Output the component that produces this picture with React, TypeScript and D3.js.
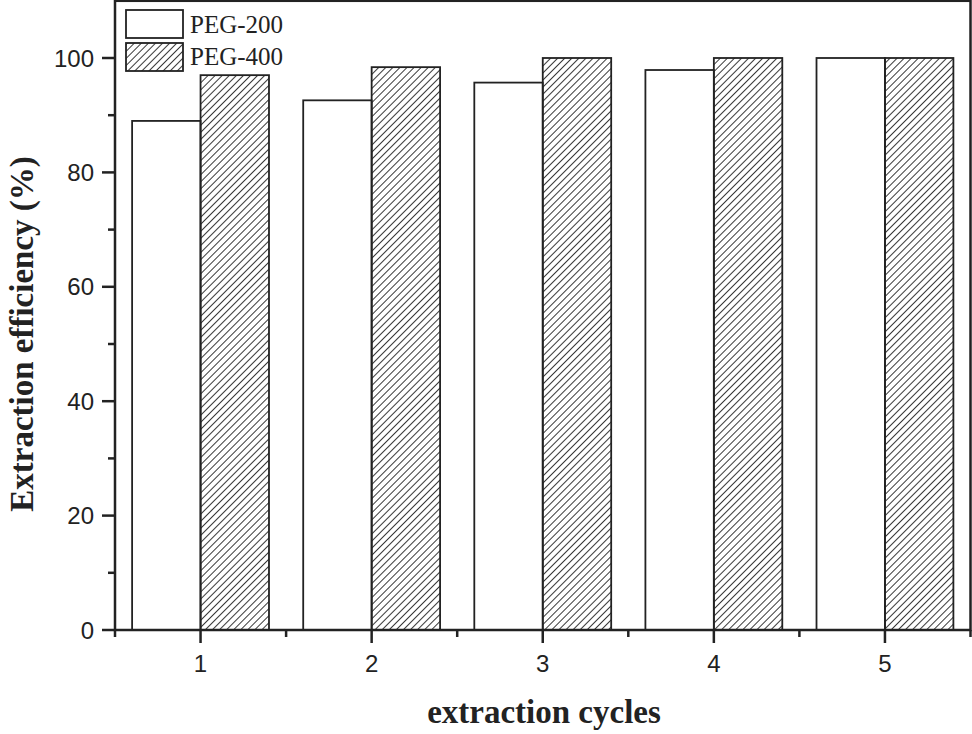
import React from "react";
import * as d3 from "d3";

const cycles = [1, 2, 3, 4, 5];
const peg200 = [89.0, 92.6, 95.7, 97.9, 100];
const peg400 = [97.0, 98.4, 100, 100, 100];
const seriesNames = ["PEG-200", "PEG-400"];
const yTicks = [0, 20, 40, 60, 80, 100];
const yMinor = [10, 30, 50, 70, 90];
const xMinor = [0.5, 1.5, 2.5, 3.5, 4.5, 5.5];

const W = 972;
const H = 734;
const left = 115;
const right = 970.5;
const bottom = 630;

export default function App() {
  const x = d3.scaleLinear().domain([0.5, 5.5]).range([left, right]);
  const y = d3.scaleLinear().domain([0, 100]).range([bottom, 58]);
  const top = y(110);
  const bw = x(1.4) - x(1);
  const serif = "'Liberation Serif', 'Times New Roman', serif";
  const sans = "'Liberation Sans', Arial, sans-serif";
  return (
    <svg width={W} height={H} style={{ position: "absolute", left: 0, top: 0 }}>
      <defs>
        <pattern id="hatch" patternUnits="userSpaceOnUse" width={5} height={5} patternTransform="rotate(45)">
          <line x1={0} y1={0} x2={0} y2={5} stroke="#222" strokeWidth={1.8} />
        </pattern>
      </defs>
      <rect x={0} y={0} width={W} height={H} fill="#fff" />
      {cycles.map((c, i) => (
        <g key={c}>
          <rect x={x(c) - bw} y={y(peg200[i])} width={bw} height={bottom - y(peg200[i])} fill="#fff" stroke="#222" strokeWidth={1.8} />
          <rect x={x(c)} y={y(peg400[i])} width={bw} height={bottom - y(peg400[i])} fill="url(#hatch)" stroke="#222" strokeWidth={1.8} />
        </g>
      ))}
      {/* frame */}
      <rect x={left} y={top} width={right - left} height={bottom - top} fill="none" stroke="#222" strokeWidth={2.5} />
      {/* y ticks */}
      {yTicks.map((t) => (
        <g key={t}>
          <line x1={left - 13} x2={left} y1={y(t)} y2={y(t)} stroke="#222" strokeWidth={2.5} />
          <text x={left - 21} y={y(t)} dy="0.36em" textAnchor="end" fontFamily={sans} fontSize={24} fill="#222">{t}</text>
        </g>
      ))}
      {yMinor.map((t) => (
        <line key={t} x1={left - 7} x2={left} y1={y(t)} y2={y(t)} stroke="#222" strokeWidth={2.5} />
      ))}
      {/* x ticks */}
      {cycles.map((c) => (
        <g key={c}>
          <line x1={x(c)} x2={x(c)} y1={bottom} y2={bottom + 13} stroke="#222" strokeWidth={2.5} />
          <text x={x(c)} y={bottom + 42} textAnchor="middle" fontFamily={sans} fontSize={24} fill="#222">{c}</text>
        </g>
      ))}
      {xMinor.map((c) => (
        <line key={c} x1={x(c)} x2={x(c)} y1={bottom} y2={bottom + 7} stroke="#222" strokeWidth={2.5} />
      ))}
      {/* legend */}
      {seriesNames.map((n, i) => (
        <g key={n}>
          <rect x={126} y={10 + i * 33} width={57} height={28} fill={i === 0 ? "#fff" : "url(#hatch)"} stroke="#222" strokeWidth={1.8} />
          <text x={190} y={33 + i * 32} fontFamily={serif} fontSize={25} fill="#222">{n}</text>
        </g>
      ))}
      {/* axis titles */}
      <text x={544} y={723} textAnchor="middle" fontFamily={serif} fontWeight="bold" fontSize={33} fill="#222">extraction cycles</text>
      <text transform={`translate(21,334) rotate(-90)`} textAnchor="middle" dy="0.35em" fontFamily={serif} fontWeight="bold" fontSize={33} fill="#222">Extraction efficiency (%)</text>
    </svg>
  );
}
